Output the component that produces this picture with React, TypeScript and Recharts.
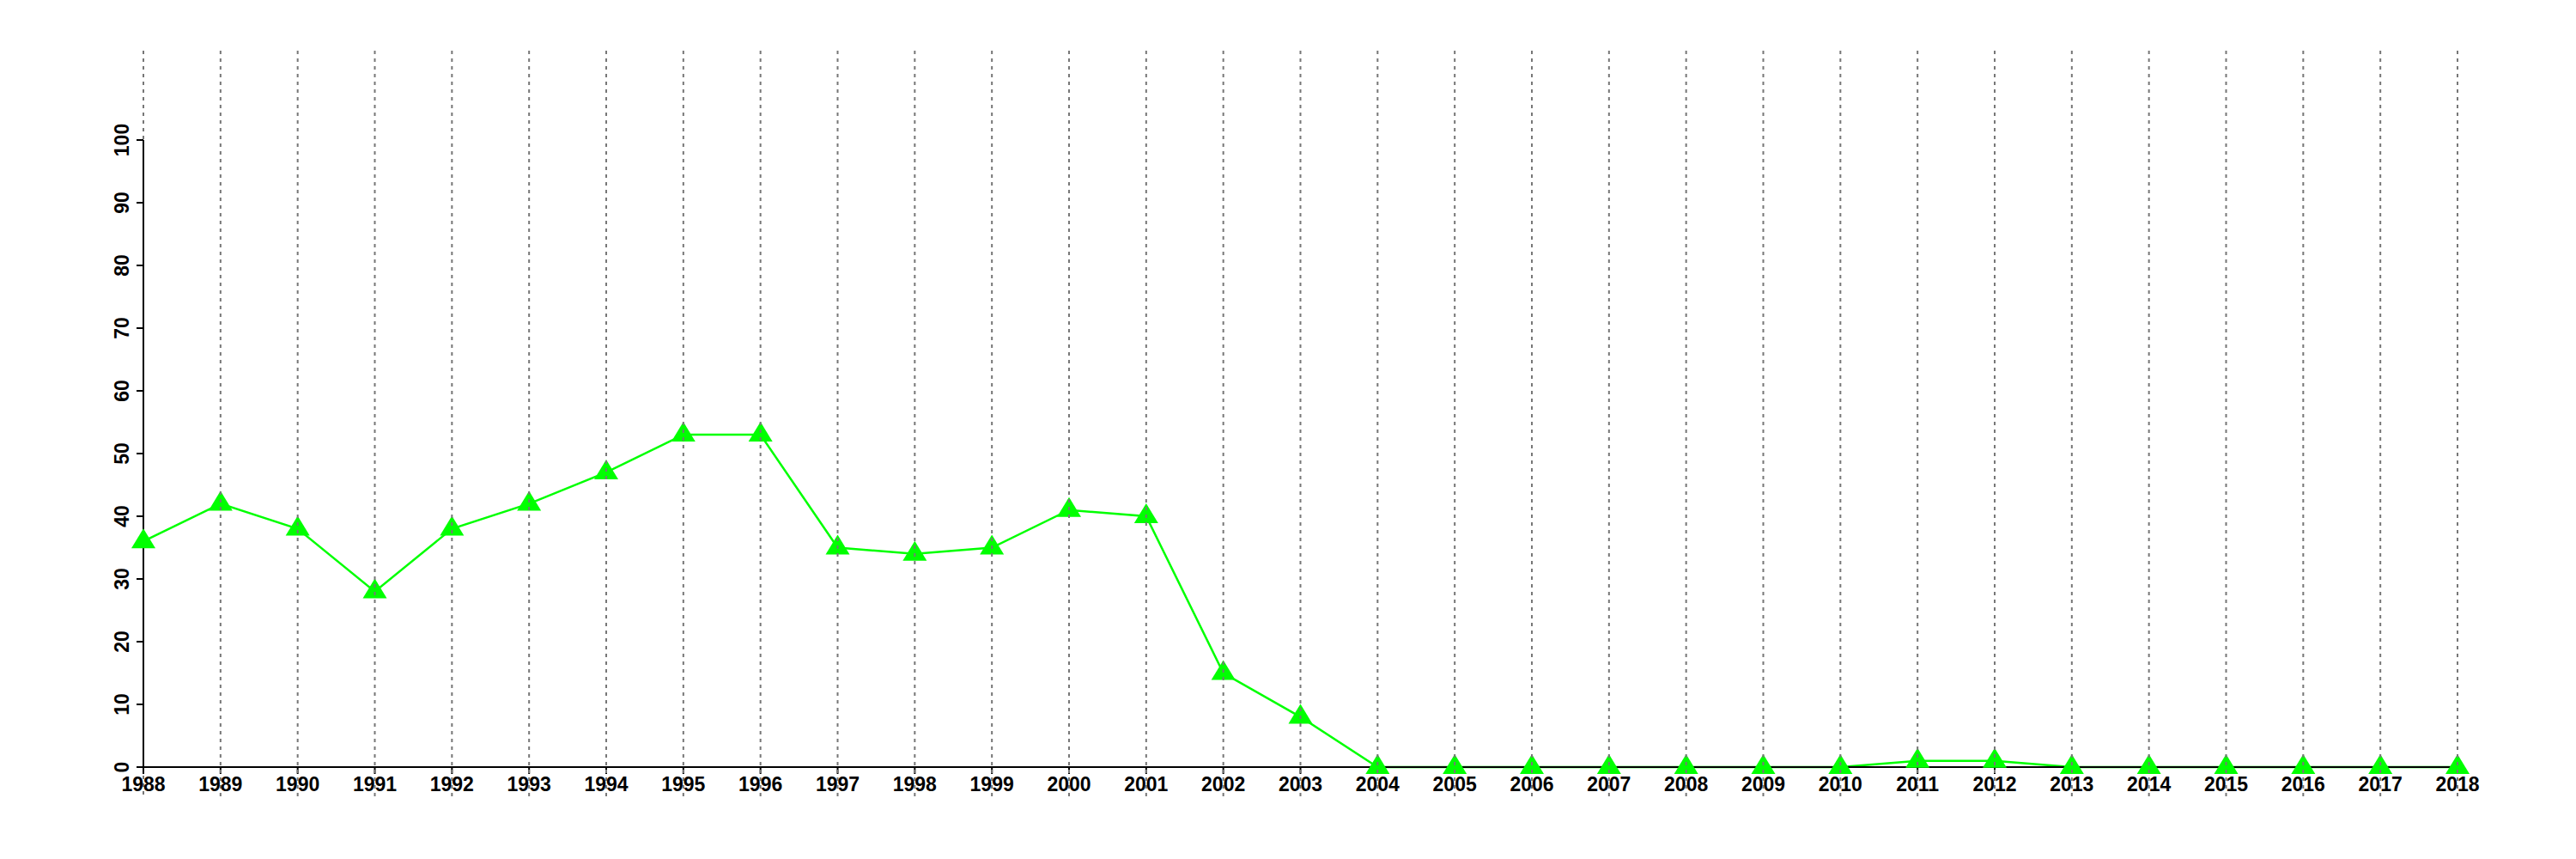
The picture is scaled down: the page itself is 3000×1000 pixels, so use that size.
import { LineChart, Line, XAxis, YAxis } from 'recharts';

const years = [
  1988, 1989, 1990, 1991, 1992, 1993, 1994, 1995, 1996, 1997, 1998, 1999, 2000, 2001, 2002, 2003,
  2004, 2005, 2006, 2007, 2008, 2009, 2010, 2011, 2012, 2013, 2014, 2015, 2016, 2017, 2018,
];
const values = [
  36, 42, 38, 28, 38, 42, 47, 53, 53, 35, 34, 35, 41, 40, 15, 8,
  0, 0, 0, 0, 0, 0, 0, 1, 1, 0, 0, 0, 0, 0, 0,
];
const yTicks = [0, 10, 20, 30, 40, 50, 60, 70, 80, 90, 100];

const data = years.map((year, i) => ({ year, value: values[i] }));

const FONT = '"Liberation Sans", Arial, Helvetica, sans-serif';

// grid runs from well above the y-axis top down past the labels
const PLOT_H = 730;
const GRID_UP = 834;
const GRID_DOWN = 34;

const XTick = ({ x, y, payload, index }: any) => {
  const axisY = y - 10;
  const dash = { stroke: '#777', strokeWidth: 2, strokeDasharray: '4 5' };
  return (
    <g>
      {index === 0 ? (
        // first year sits on the y axis: only dash outside the axis line
        <>
          <line x1={x} x2={x} y1={axisY - GRID_UP} y2={axisY - PLOT_H - 1} {...dash} />
          <line x1={x} x2={x} y1={axisY + 10} y2={axisY + GRID_DOWN} {...dash} />
        </>
      ) : (
        <line x1={x} x2={x} y1={axisY - GRID_UP} y2={axisY + GRID_DOWN} {...dash} />
      )}
      <text
        x={x}
        y={axisY + 28}
        textAnchor="middle"
        fontFamily={FONT}
        fontWeight="bold"
        fontSize={23}
        fill="#000"
      >
        {payload.value}
      </text>
    </g>
  );
};

const YTick = ({ x, y, payload }: any) => (
  <text
    x={x - 7}
    y={y}
    transform={`rotate(-90 ${x - 7} ${y})`}
    textAnchor="middle"
    fontFamily={FONT}
    fontWeight="bold"
    fontSize={23}
    fill="#000"
  >
    {payload.value}
  </text>
);

const Triangle = ({ cx, cy }: any) => {
  if (cx == null || cy == null) return null;
  return (
    <polygon
      points={`${cx},${cy - 15} ${cx - 14},${cy + 8} ${cx + 14},${cy + 8}`}
      fill="#00ff00"
      stroke="none"
    />
  );
};

export default function App() {
  return (
    <div style={{ position: 'absolute', left: 0, top: 0, background: '#fff' }}>
      <LineChart
        width={3000}
        height={1000}
        data={data}
        margin={{ top: 163, right: 138, left: 107, bottom: 47 }}
      >
        <XAxis
          dataKey="year"
          type="number"
          domain={[1988, 2018]}
          ticks={years}
          interval={0}
          height={60}
          tickSize={8}
          axisLine={{ stroke: '#000', strokeWidth: 2 }}
          tickLine={{ stroke: '#000', strokeWidth: 2 }}
          tick={<XTick />}
        />
        <YAxis
          type="number"
          domain={[0, 100]}
          ticks={yTicks}
          interval={0}
          width={60}
          tickSize={8}
          axisLine={{ stroke: '#000', strokeWidth: 2 }}
          tickLine={{ stroke: '#000', strokeWidth: 2 }}
          tick={<YTick />}
        />
        <Line
          type="linear"
          dataKey="value"
          stroke="#00ff00"
          strokeWidth={2.5}
          dot={<Triangle />}
          activeDot={false}
          isAnimationActive={false}
        />
      </LineChart>
    </div>
  );
}
